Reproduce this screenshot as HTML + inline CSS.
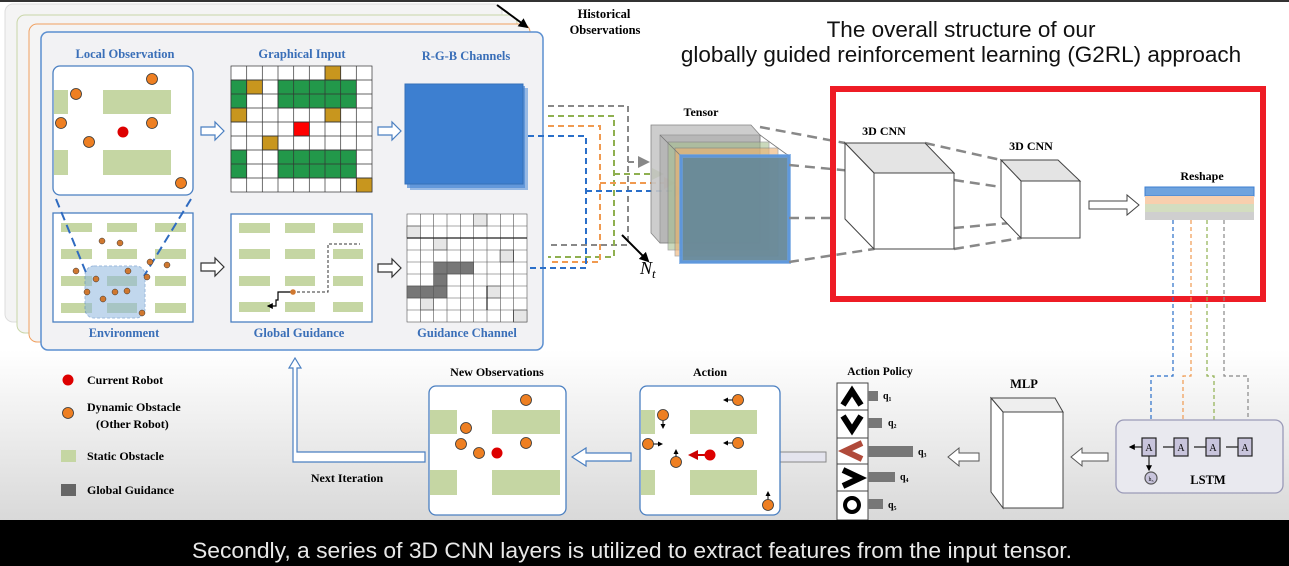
<!DOCTYPE html>
<html><head><meta charset="utf-8"><style>
html,body{margin:0;padding:0;background:#fff;width:1289px;height:566px;overflow:hidden}
svg{display:block}
.t{font-family:"Liberation Serif",serif;font-weight:bold}
</style></head><body>
<svg width="1289" height="566" viewBox="0 0 1289 566" xmlns="http://www.w3.org/2000/svg">
<defs>
<linearGradient id="bg" x1="0" y1="0" x2="0" y2="1">
<stop offset="0" stop-color="#ffffff"/><stop offset="1" stop-color="#d9d9d9"/>
</linearGradient>
<marker id="ab" markerWidth="6" markerHeight="6" refX="5" refY="3" orient="auto"><path d="M0,0L6,3L0,6z" fill="#2a6fc9"/></marker>
<marker id="ao" markerWidth="6" markerHeight="6" refX="5" refY="3" orient="auto"><path d="M0,0L6,3L0,6z" fill="#f09a50"/></marker>
<marker id="ag" markerWidth="6" markerHeight="6" refX="5" refY="3" orient="auto"><path d="M0,0L6,3L0,6z" fill="#8fb050"/></marker>
<marker id="ay" markerWidth="6" markerHeight="6" refX="5" refY="3" orient="auto"><path d="M0,0L6,3L0,6z" fill="#888"/></marker>
<marker id="ak" markerWidth="5" markerHeight="5" refX="4" refY="2.5" orient="auto"><path d="M0,0L5,2.5L0,5z" fill="#000"/></marker>
<marker id="ar" markerWidth="5" markerHeight="5" refX="4" refY="2.5" orient="auto"><path d="M0,0L5,2.5L0,5z" fill="#c00"/></marker>
</defs>
<rect x="0" y="0" width="1289" height="520" fill="#fff"/>
<rect x="0" y="350" width="1289" height="170" fill="url(#bg)"/>
<rect x="0" y="0" width="1289" height="2" fill="#333"/>
<!-- stacked pages -->
<rect x="5" y="4" width="497" height="318" rx="8" fill="#f4f4f4" stroke="#ddd"/>
<rect x="17" y="15" width="500" height="318" rx="8" fill="#f4f4f4" stroke="#c9d6a8"/>
<rect x="29" y="24" width="501" height="318" rx="8" fill="#f4f4f4" stroke="#f0a060"/>
<rect x="41" y="32" width="502" height="318" rx="7" fill="#f2f2f4" stroke="#5b8fd0" stroke-width="1.5"/>
<!-- historical -->
<line x1="497" y1="5" x2="527" y2="27" stroke="#000" stroke-width="2" marker-end="url(#ak)"/>
<text class="t" x="604" y="18" font-size="12.5" text-anchor="middle">Historical</text>
<text class="t" x="605" y="34" font-size="12.5" text-anchor="middle">Observations</text>
<!-- titles -->
<g class="t" font-size="12.5" fill="#3a6fb8" text-anchor="middle">
<text x="125" y="58">Local Observation</text>
<text x="302" y="58">Graphical Input</text>
<text x="466" y="60">R-G-B Channels</text>
<text x="124" y="337">Environment</text>
<text x="299" y="337">Global Guidance</text>
<text x="467" y="337">Guidance Channel</text>
</g>
<!-- local observation -->
<rect x="53" y="66" width="140" height="129" rx="7" fill="#fff" stroke="#4a7fc1" stroke-width="1.3"/>
<g fill="#c5d6a3"><rect x="54" y="90" width="14" height="24"/><rect x="103" y="90" width="68" height="24"/><rect x="54" y="150" width="14" height="25"/><rect x="103" y="150" width="68" height="25"/></g>
<g fill="#ee7f22" stroke="#333" stroke-width="0.8"><circle cx="152" cy="79" r="5.5"/><circle cx="76" cy="94" r="5.5"/><circle cx="61" cy="123" r="5.5"/><circle cx="152" cy="123" r="5.5"/><circle cx="89" cy="142" r="5.5"/><circle cx="181" cy="183" r="5.5"/></g>
<circle cx="123" cy="132" r="5.5" fill="#d00"/>
<!-- graphical input grid -->
<g stroke="#333" stroke-width="0.7">
<rect x="231" y="66" width="141" height="126" fill="#fff"/>
<g fill="#22984a">
<rect x="231" y="80" width="15.7" height="28"/><rect x="278" y="80" width="78.3" height="28"/>
<rect x="231" y="150" width="15.7" height="28"/><rect x="278" y="150" width="78.3" height="28"/>
</g>
<g fill="#c8961e">
<rect x="325" y="66" width="15.7" height="14"/><rect x="246.7" y="80" width="15.7" height="14"/><rect x="231" y="108" width="15.7" height="14"/><rect x="325" y="108" width="15.7" height="14"/><rect x="262.3" y="136" width="15.7" height="14"/><rect x="356.3" y="178" width="15.7" height="14"/>
</g>
<rect x="293.7" y="122" width="15.7" height="14" fill="#f00"/>
<path d="M246.7 66V192M262.3 66V192M278 66V192M293.7 66V192M309.3 66V192M325 66V192M340.7 66V192M356.3 66V192M231 80H372M231 94H372M231 108H372M231 122H372M231 136H372M231 150H372M231 164H372M231 178H372" fill="none"/>
</g>
<!-- hollow arrows -->
<g fill="#fff" stroke="#4a7fc1" stroke-width="1.2">
<path d="M201 127h14v-5l9 9-9 9v-5h-14z"/><path d="M378 127h14v-5l9 9-9 9v-5h-14z"/>
</g>
<g fill="#fff" stroke="#333" stroke-width="1.2">
<path d="M201 263h14v-5l9 9-9 9v-5h-14z"/><path d="M378 264h14v-5l9 9-9 9v-5h-14z"/>
</g>
<!-- RGB -->
<rect x="410" y="88" width="118" height="102" fill="#5a92d8" opacity="0.6"/>
<rect x="407" y="86" width="118" height="102" fill="#4d8ad6" opacity="0.7"/>
<rect x="405" y="84" width="118" height="100" fill="#3d7fd0" stroke="#3570b8"/>
<!-- environment -->
<rect x="53" y="213" width="140" height="109" fill="#fff" stroke="#4a7fc1" stroke-width="1.3"/>
<g fill="#c5d6a3">
<rect x="61" y="223" width="31" height="9"/><rect x="107" y="223" width="30" height="9"/><rect x="155" y="223" width="31" height="9"/>
<rect x="61" y="249" width="31" height="10"/><rect x="107" y="249" width="30" height="10"/><rect x="155" y="249" width="31" height="10"/>
<rect x="61" y="276" width="31" height="10"/><rect x="107" y="276" width="30" height="10"/><rect x="155" y="276" width="31" height="10"/>
<rect x="61" y="303" width="31" height="10"/><rect x="107" y="303" width="30" height="10"/><rect x="155" y="303" width="31" height="10"/>
</g>
<rect x="85" y="266" width="60" height="52" rx="9" fill="#8fb8e0" opacity="0.55" stroke="#4a7fc1" stroke-dasharray="3,2"/>
<g stroke="#2f6bc0" stroke-width="2" stroke-dasharray="9,5"><line x1="56" y1="199" x2="87" y2="275"/><line x1="191" y1="199" x2="144" y2="276"/></g>
<g fill="#d07830" stroke="#333" stroke-width="0.5">
<circle cx="102" cy="241" r="3"/><circle cx="120" cy="243" r="3"/><circle cx="150" cy="262" r="3"/><circle cx="167" cy="265" r="3"/><circle cx="76" cy="271" r="3"/><circle cx="128" cy="271" r="3"/><circle cx="147" cy="277" r="3"/><circle cx="96" cy="279" r="3"/><circle cx="87" cy="292" r="3"/><circle cx="115" cy="292" r="3"/><circle cx="127" cy="291" r="3"/><circle cx="103" cy="299" r="3"/><circle cx="142" cy="313" r="3"/>
</g>
<!-- global guidance -->
<rect x="231" y="214" width="141" height="108" fill="#fff" stroke="#4a7fc1" stroke-width="1.3"/>
<g fill="#c5d6a3">
<rect x="239" y="223" width="31" height="10"/><rect x="285" y="223" width="30" height="10"/><rect x="333" y="223" width="30" height="10"/>
<rect x="239" y="249" width="31" height="10"/><rect x="285" y="249" width="30" height="10"/><rect x="333" y="249" width="30" height="10"/>
<rect x="239" y="276" width="31" height="10"/><rect x="285" y="276" width="30" height="10"/><rect x="333" y="276" width="30" height="10"/>
<rect x="239" y="302" width="31" height="10"/><rect x="285" y="302" width="30" height="10"/><rect x="333" y="302" width="30" height="10"/>
</g>
<path d="M292 292H328V244H360" fill="none" stroke="#333" stroke-dasharray="3,2"/>
<path d="M292 292H278V300H276V306H268" fill="none" stroke="#000" stroke-width="1.2" marker-end="url(#ak)"/>
<circle cx="293" cy="292" r="2.8" fill="#d07830"/>
<!-- guidance channel -->
<g stroke="#555" stroke-width="0.6">
<rect x="407" y="214" width="120" height="108" fill="#fff"/>
<g fill="#e6e6e6"><rect x="407" y="226" width="13.3" height="12"/><rect x="473.7" y="214" width="13.3" height="12"/><rect x="433.7" y="238" width="13.3" height="12"/><rect x="500" y="250" width="13.3" height="12"/><rect x="487" y="286" width="13.3" height="12"/><rect x="420.3" y="298" width="13.3" height="12"/><rect x="513.3" y="310" width="13.7" height="12"/></g>
<g fill="#777"><rect x="433.7" y="262" width="40" height="12"/><rect x="433.7" y="274" width="13.3" height="12"/><rect x="407" y="286" width="40" height="12"/></g>
<path d="M420.3 214V322M433.7 214V322M447 214V322M460.3 214V322M473.7 214V322M487 214V322M500.3 214V322M513.7 214V322M407 226H527M407 238H527M407 250H527M407 262H527M407 274H527M407 286H527M407 298H527M407 310H527" fill="none"/>
<path d="M407 238H527M487 286V310" stroke="#222" stroke-width="1.2"/>
</g>
<!-- dashed connectors -->
<g fill="none" stroke-width="2" stroke-dasharray="6,4">
<path d="M548 106H628V245H548" stroke="#888"/>
<path d="M548 116H614V257H548" stroke="#8fb050"/>
<path d="M548 126H600V262H548" stroke="#f09a50"/>
<path d="M528 136H586V268H528" stroke="#2a6fc9"/>
<path d="M628 162H648" stroke="#888" marker-end="url(#ay)"/>
<path d="M614 174H662" stroke="#8fb050" marker-end="url(#ag)"/>
<path d="M600 183H674" stroke="#f09a50" marker-end="url(#ao)"/>
<path d="M586 191H684" stroke="#2a6fc9" marker-end="url(#ab)"/>
</g>
<!-- tensor -->
<text class="t" x="701" y="116" font-size="12" text-anchor="middle">Tensor</text>
<g stroke="#777" stroke-width="0.8">
<path d="M651 125H751L760 135V243H660L651 233Z" fill="#c8c8c8" opacity="0.9"/>
<rect x="660" y="135" width="100" height="108" fill="#aaa" opacity="0.6"/>
<rect x="668" y="142" width="101" height="108" fill="#a8c090" opacity="0.6"/>
<rect x="675" y="148" width="103" height="108" fill="#f0b070" opacity="0.6"/>
<path d="M660 135L681 156M760 135L789 156" fill="none"/>
</g>
<rect x="681" y="156" width="108" height="106" fill="#66899a" stroke="#3d7fd0" stroke-width="2" opacity="0.95"/>
<rect x="681" y="156" width="108" height="106" fill="none" stroke="#6aa0e0" stroke-width="4" opacity="0.7"/>
<line x1="622" y1="235" x2="648" y2="261" stroke="#000" stroke-width="2" marker-end="url(#ak)"/>
<text x="640" y="274" font-family="Liberation Serif,serif" font-style="italic" font-size="18">N<tspan font-size="13" dy="4">t</tspan></text>
<!-- title -->
<g font-family="Liberation Sans,sans-serif" font-size="22.5" text-anchor="middle" fill="#111">
<text x="961" y="37">The overall structure of our</text>
<text x="961" y="62">globally guided reinforcement learning (G2RL) approach</text>
</g>
<!-- CNN dashed links -->
<g stroke="#888" stroke-width="2.5" stroke-dasharray="10,6" fill="none">
<path d="M760 127L845 143M789 165L874 173M789 218L833 218M789 262L874 249"/>
<path d="M925 143L1001 160M954 180L1021 190M954 228L1021 222M954 249L1021 238"/>
</g>
<rect x="833" y="89" width="430" height="210" fill="none" stroke="#ee1c25" stroke-width="6"/>
<g fill="#fff" stroke="#444" stroke-width="1">
<path d="M845 143H925L954 173H874Z" fill="#e4e4e4"/><path d="M845 143L874 173V249L845 219Z"/><rect x="874" y="173" width="80" height="76"/>
<path d="M1001 160H1058L1080 181H1021Z" fill="#e4e4e4"/><path d="M1001 160L1021 181V238L1001 217Z"/><rect x="1021" y="181" width="59" height="57"/>
</g>
<g class="t" font-size="12" text-anchor="middle"><text x="884" y="135">3D CNN</text><text x="1031" y="150">3D CNN</text><text x="1202" y="180">Reshape</text></g>
<path d="M1089 201h38v-6l12 10-12 10v-6h-38z" fill="#fff" stroke="#444"/>
<rect x="1145" y="187" width="109" height="9" fill="#6fa3de" stroke="#3d7fd0"/>
<rect x="1145" y="196" width="109" height="8" fill="#f8cfae"/>
<rect x="1145" y="204" width="109" height="8" fill="#d3ddc0"/>
<rect x="1145" y="212" width="109" height="8" fill="#cfcfcf"/>
<!-- LSTM links -->
<g fill="none" stroke-width="1.2" stroke-dasharray="4,3">
<path d="M1173 220V376H1151V432" stroke="#2a6fc9" marker-end="url(#ab)"/>
<path d="M1191 220V376H1183V432" stroke="#f09a50" marker-end="url(#ao)"/>
<path d="M1207 220V376H1214V432" stroke="#8fb050" marker-end="url(#ag)"/>
<path d="M1224 220V376H1248V432" stroke="#888" marker-end="url(#ay)"/>
</g>
<rect x="1116" y="420" width="167" height="73" rx="8" fill="#e9e9ef" stroke="#9a9ab8" stroke-width="1.3"/>
<g stroke="#222" stroke-width="1.2">
<path d="M1242 447H1226M1210 447H1194M1178 447H1163M1142 447H1130" fill="none" marker-end="url(#ak)"/>
<path d="M1149 456V470" marker-end="url(#ak)"/>
<g fill="#c8c4dc"><rect x="1142" y="438" width="14" height="18"/><rect x="1174" y="438" width="14" height="18"/><rect x="1206" y="438" width="14" height="18"/><rect x="1238" y="438" width="14" height="18"/></g>
<circle cx="1151" cy="478" r="6" fill="#c8c4dc" stroke="#555"/>
</g>
<g font-family="Liberation Serif,serif" font-size="10" text-anchor="middle"><text x="1149" y="451">A</text><text x="1181" y="451">A</text><text x="1213" y="451">A</text><text x="1245" y="451">A</text><text x="1151" y="481" font-size="6">h₃</text></g>
<text class="t" x="1208" y="484" font-size="12.5" text-anchor="middle">LSTM</text>
<!-- MLP -->
<text class="t" x="1024" y="388" font-size="12.5" text-anchor="middle">MLP</text>
<g fill="#fff" stroke="#444"><path d="M991 398H1055L1063 412H1003Z" fill="#eee"/><path d="M991 398L1003 412V508L991 492Z"/><rect x="1003" y="412" width="60" height="96"/></g>
<g fill="#fff" stroke="#555"><path d="M1108 453h-26v-5l-11 9 11 9v-5h26z"/><path d="M979 453h-20v-5l-11 9 11 9v-5h20z"/></g>
<!-- action policy -->
<text class="t" x="880" y="375" font-size="11.5" text-anchor="middle">Action Policy</text>
<g stroke="#444" fill="#fff"><rect x="837" y="383" width="31" height="27"/><rect x="837" y="410" width="31" height="28"/><rect x="837" y="438" width="31" height="26"/><rect x="837" y="464" width="31" height="27"/><rect x="837" y="491" width="31" height="29"/></g>
<g fill="none" stroke-width="6" stroke-linejoin="miter"><path d="M843 405L852 391L861 405" stroke="#000"/><path d="M843 416L852 430L861 416" stroke="#000"/><path d="M862 443L845 451L862 459" stroke="#b04a3a"/><path d="M843 470L860 478L843 486" stroke="#000"/></g>
<circle cx="852" cy="505" r="7" fill="none" stroke="#000" stroke-width="4"/>
<g fill="#777"><rect x="868" y="391" width="10" height="10"/><rect x="868" y="418" width="14" height="10"/><rect x="868" y="446" width="45" height="11"/><rect x="868" y="472" width="27" height="10"/><rect x="868" y="499" width="15" height="10"/></g>
<g class="t" font-size="10"><text x="883" y="399">q₁</text><text x="888" y="426">q₂</text><text x="918" y="455">q₃</text><text x="900" y="480">q₄</text><text x="888" y="508">q₅</text></g>
<path d="M826 452h-72v-5l-15 10 15 10v-5h72z" fill="#e4e4ee" stroke="#888"/>
<!-- action box -->
<text class="t" x="710" y="376" font-size="12" text-anchor="middle">Action</text>
<rect x="640" y="386" width="140" height="129" rx="7" fill="#fff" stroke="#4a7fc1" stroke-width="1.3"/>
<g fill="#c5d6a3"><rect x="641" y="410" width="14" height="24"/><rect x="690" y="410" width="67" height="24"/><rect x="641" y="470" width="14" height="25"/><rect x="690" y="470" width="67" height="25"/></g>
<g stroke="#000" stroke-width="1" fill="none"><path d="M734 400H724" marker-end="url(#ak)"/><path d="M663 415V428" marker-end="url(#ak)"/><path d="M649 444H662" marker-end="url(#ak)"/><path d="M734 443H724" marker-end="url(#ak)"/><path d="M676 462V450" marker-end="url(#ak)"/><path d="M768 505V492" marker-end="url(#ak)"/></g>
<g fill="#ee7f22" stroke="#333" stroke-width="0.8"><circle cx="738" cy="400" r="5.5"/><circle cx="663" cy="415" r="5.5"/><circle cx="648" cy="444" r="5.5"/><circle cx="738" cy="443" r="5.5"/><circle cx="676" cy="462" r="5.5"/><circle cx="768" cy="505" r="5.5"/></g>
<path d="M705 455H690" stroke="#c00" stroke-width="2" marker-end="url(#ar)"/>
<circle cx="710" cy="455" r="5.5" fill="#d00"/>
<path d="M631 453h-45v-5l-14 9 14 9v-5h45z" fill="#fff" stroke="#4a7fc1" stroke-width="1.2"/>
<!-- new observations -->
<text class="t" x="497" y="376" font-size="12" text-anchor="middle">New Observations</text>
<rect x="429" y="386" width="137" height="129" rx="7" fill="#fff" stroke="#4a7fc1" stroke-width="1.3"/>
<g fill="#c5d6a3"><rect x="430" y="410" width="27" height="24"/><rect x="492" y="410" width="68" height="24"/><rect x="430" y="470" width="27" height="25"/><rect x="492" y="470" width="68" height="25"/></g>
<g fill="#ee7f22" stroke="#333" stroke-width="0.8"><circle cx="526" cy="400" r="5.5"/><circle cx="466" cy="428" r="5.5"/><circle cx="461" cy="444" r="5.5"/><circle cx="479" cy="453" r="5.5"/><circle cx="526" cy="443" r="5.5"/></g>
<circle cx="497" cy="453" r="5.5" fill="#d00"/>
<!-- next iteration -->
<path d="M425 452H297V368h4l-6-10-6 10h4v94h132z" fill="#fff" stroke="#4a7fc1" stroke-width="1.2"/>
<text class="t" x="347" y="482" font-size="12" text-anchor="middle">Next Iteration</text>
<!-- legend -->
<circle cx="68" cy="380" r="5.5" fill="#d00"/>
<circle cx="68" cy="413" r="5.5" fill="#ee7f22" stroke="#333" stroke-width="0.8"/>
<rect x="61" y="450" width="15" height="12" fill="#c5d6a3"/>
<rect x="61" y="484" width="15" height="12" fill="#666"/>
<g class="t" font-size="12"><text x="87" y="384">Current Robot</text><text x="87" y="411">Dynamic Obstacle</text><text x="96" y="428">(Other Robot)</text><text x="87" y="460">Static Obstacle</text><text x="87" y="494">Global Guidance</text></g>
<!-- caption -->
<rect x="0" y="520" width="1289" height="46" fill="#000"/>
<text x="632" y="558" font-family="Liberation Sans,sans-serif" font-size="22.5" fill="#e8e8e8" text-anchor="middle" textLength="880" lengthAdjust="spacingAndGlyphs">Secondly, a series of 3D CNN layers is utilized to extract features from the input tensor.</text>
</svg>
</body></html>
